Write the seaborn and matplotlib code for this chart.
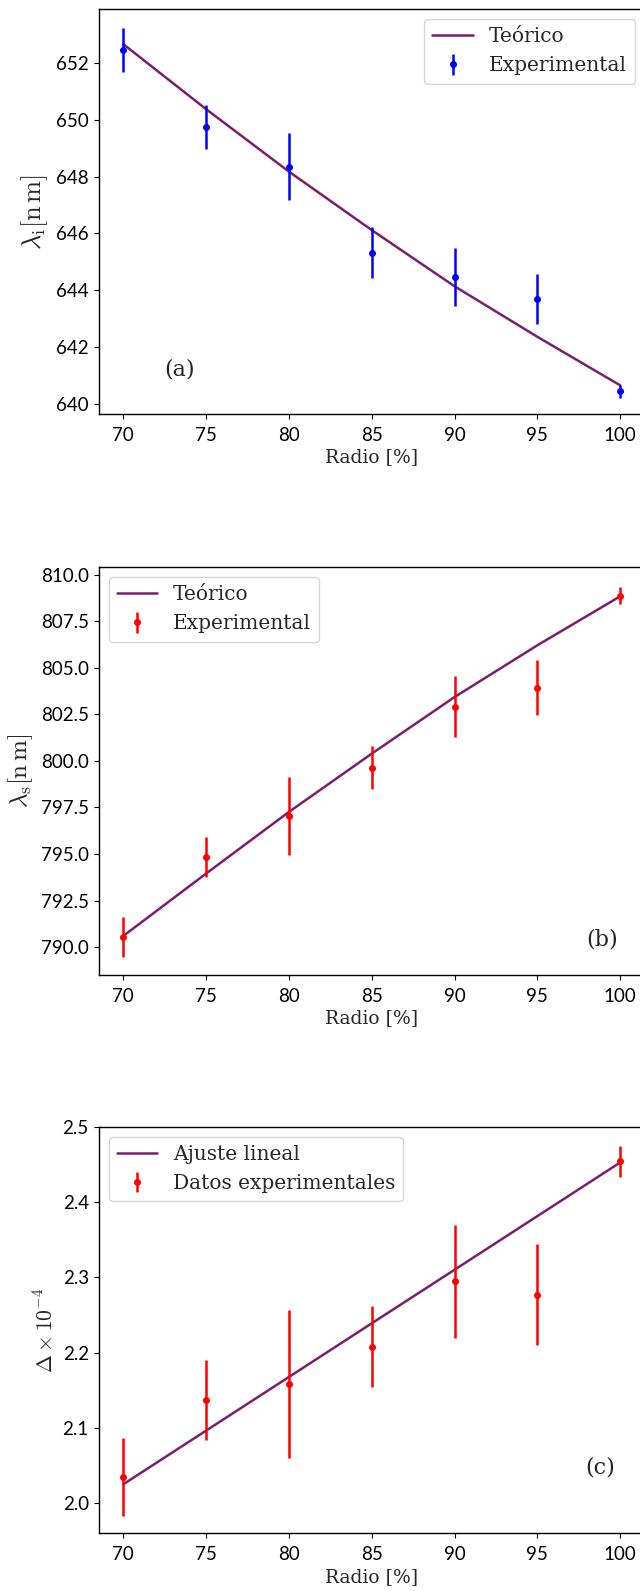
import numpy as np
import pandas as pd
import matplotlib
matplotlib.use("Agg")
import matplotlib.pyplot as plt
import seaborn as sns

radio = [70, 75, 80, 85, 90, 95, 100]

# panel (a)
li_exp = [652.47, 649.76, 648.35, 645.33, 644.47, 643.70, 640.44]
li_err = [0.77, 0.77, 1.18, 0.89, 1.03, 0.88, 0.22]
li_teo = [652.67, 650.38, 648.18, 646.12, 644.14, 642.36, 640.65]

# panel (b)
ls_exp = [790.55, 794.83, 797.03, 799.64, 802.92, 803.92, 808.87]
ls_err = [1.07, 1.09, 2.11, 1.16, 1.63, 1.48, 0.46]
ls_teo = [790.60, 793.95, 797.26, 800.39, 803.43, 806.21, 808.84]

# panel (c)
d_exp = [2.0347, 2.137, 2.158, 2.208, 2.295, 2.277, 2.4547]
d_err = [0.052, 0.053, 0.099, 0.054, 0.0756, 0.067, 0.021]
d_fit = [2.0244, 2.0959, 2.1674, 2.2389, 2.3103, 2.3818, 2.4533]

sns.set_theme(style="ticks")
plt.rcParams["font.family"] = ["Lato", "DejaVu Sans"]
plt.rcParams["mathtext.fontset"] = "cm"
plt.rcParams["axes.linewidth"] = 1.0
plt.rcParams["xtick.labelsize"] = 13.5
plt.rcParams["ytick.labelsize"] = 13.5
plt.rcParams["xtick.major.size"] = 3.5
plt.rcParams["ytick.major.size"] = 3.5
plt.rcParams["xtick.major.width"] = 0.8
plt.rcParams["ytick.major.width"] = 0.8
plt.rcParams["xtick.major.pad"] = 6
plt.rcParams["axes.edgecolor"] = "black"
plt.rcParams["xtick.color"] = "black"
plt.rcParams["ytick.color"] = "black"

LINE_C = "#7b1f6c"

fig = plt.figure(figsize=(6.4, 15.91), dpi=100)
W = 640.0
H = 1591.0
left = 98.5 / W
width = (645.0 - 98.5) / W
axa = fig.add_axes([left, 1 - 413.7 / H, width, 404.4 / H])
axb = fig.add_axes([left, 1 - 975.0 / H, width, 407.7 / H])
axc = fig.add_axes([left, 1 - 1533.3 / H, width, 406.6 / H])

def panel(ax, teo, exp, err, color, lab_line, lab_pts, ylabel, ylsize, ylim, yticks, loc, tag, tagpos):
    df = pd.DataFrame({"x": radio, "y": teo})
    sns.lineplot(data=df, x="x", y="y", ax=ax, color=LINE_C, lw=1.8, label=lab_line)
    ax.errorbar(radio, exp, yerr=err, fmt="o", color=color, ms=4, elinewidth=1.8,
                capsize=0, label=lab_pts)
    ax.set_xlim(68.5, 101.5)
    ax.set_ylim(*ylim)
    ax.set_yticks(yticks)
    ax.set_xticks(radio)
    ax.set_xlabel("Radio [%]", fontsize=13.5, labelpad=3, family=["DejaVu Serif"])
    ax.set_ylabel(ylabel, fontsize=ylsize, labelpad=4)
    leg = ax.legend(loc=loc, frameon=True, handlelength=2.0,
                    prop={"family": ["DejaVu Serif"], "size": 14.5})
    leg.get_frame().set_edgecolor("#cccccc")
    ax.text(tagpos[0], tagpos[1], tag, fontsize=16, ha="center", va="center",
            family=["DejaVu Serif"])
    for s in ax.spines.values():
        s.set_visible(True)
        s.set_color("black")

panel(axa, li_teo, li_exp, li_err, "blue", "Teórico", "Experimental",
      r"$\lambda_{\mathrm{i}}[\mathrm{n\,m}]$", 19, (639.65, 653.9),
      [640, 642, 644, 646, 648, 650, 652], "upper right", "(a)", (73.4, 641.2))
panel(axb, ls_teo, ls_exp, ls_err, "red", "Teórico", "Experimental",
      r"$\lambda_{\mathrm{s}}[\mathrm{n\,m}]$", 18, (788.5, 810.4),
      [790.0, 792.5, 795.0, 797.5, 800.0, 802.5, 805.0, 807.5, 810.0], "upper left", "(b)", (98.9, 790.4))
axb.yaxis.set_major_formatter(matplotlib.ticker.FormatStrFormatter("%.1f"))
panel(axc, d_fit, d_exp, d_err, "red", "Ajuste lineal", "Datos experimentales",
      r"$\Delta\times10^{-4}$", 15.5, (1.959, 2.501),
      [2.0, 2.1, 2.2, 2.3, 2.4, 2.5], "upper left", "(c)", (98.8, 2.0467))
axc.yaxis.set_major_formatter(matplotlib.ticker.FormatStrFormatter("%.1f"))

fig.savefig("out.png", dpi=100)
